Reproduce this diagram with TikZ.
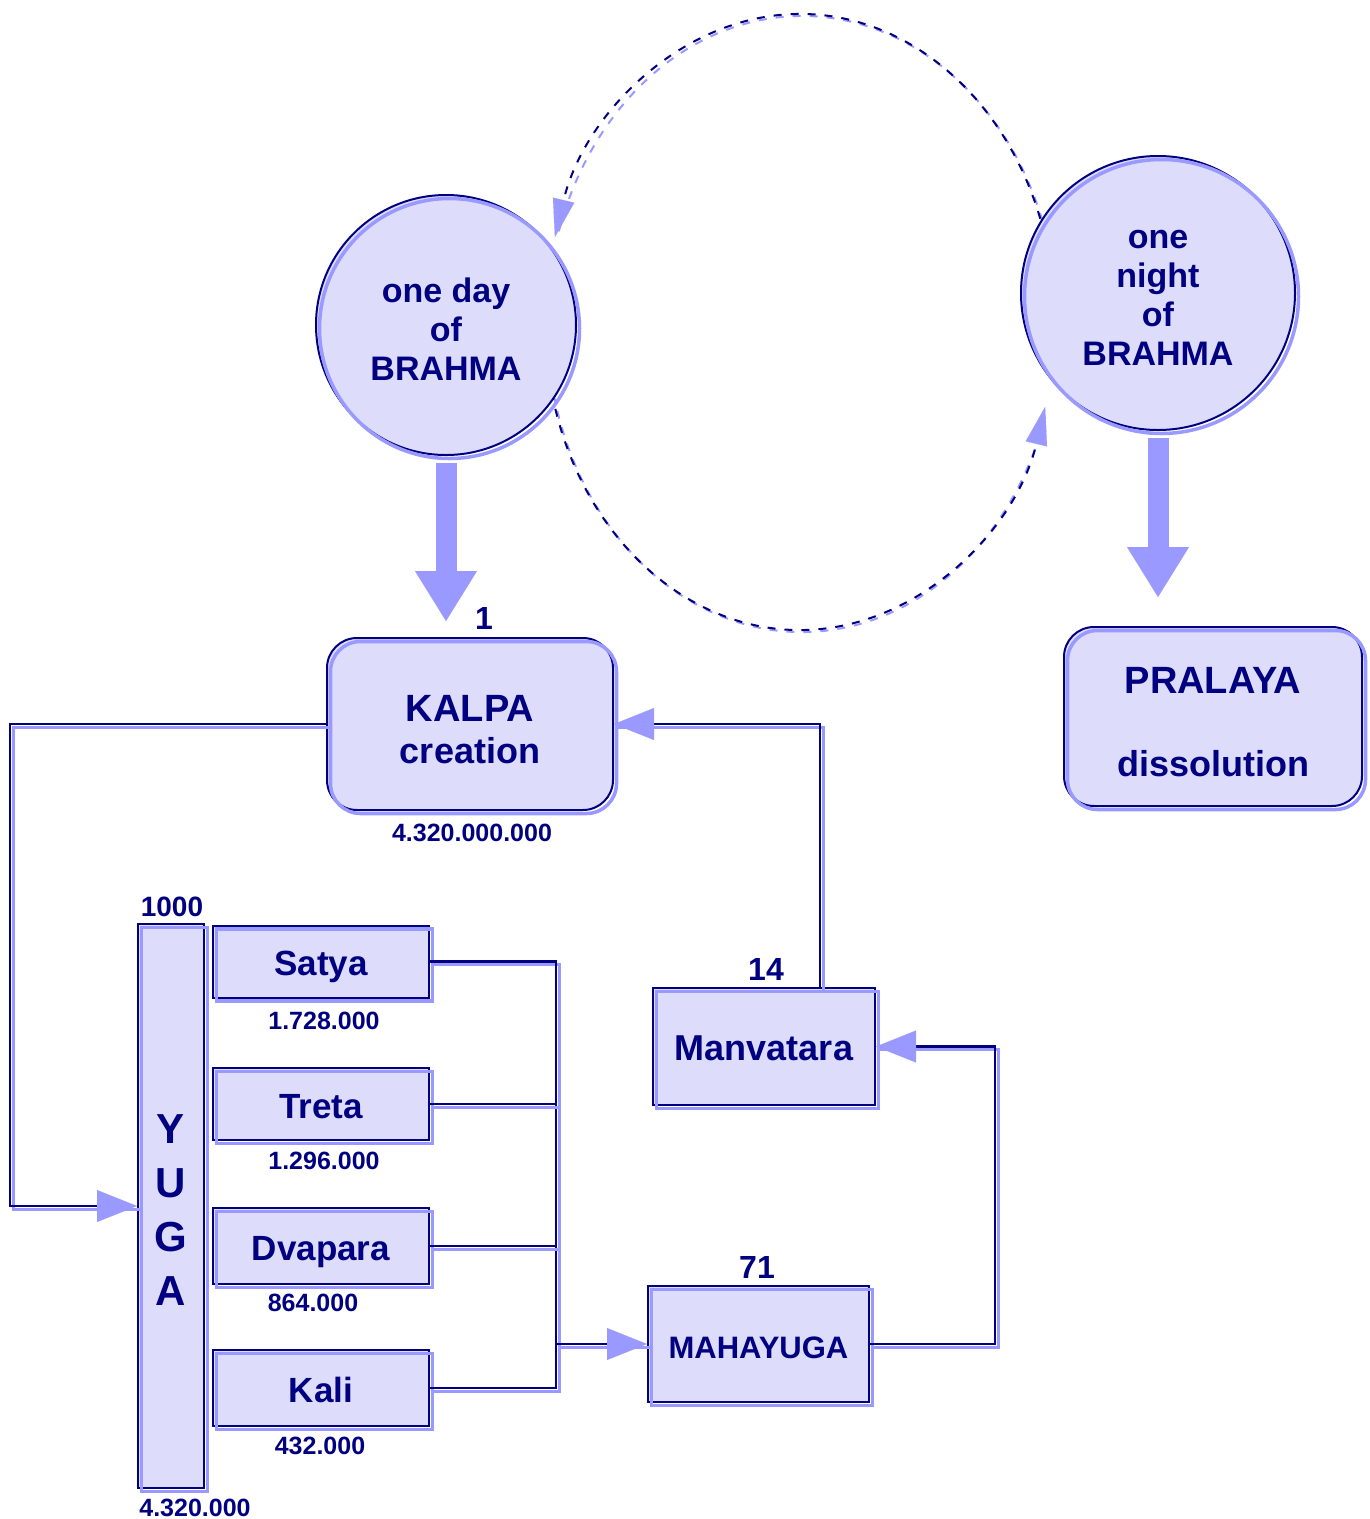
\documentclass[tikz,border=0pt]{standalone}
\usepackage{fontspec}
\setmainfont{Liberation Sans}
\usetikzlibrary{arrows.meta}
\definecolor{navy}{RGB}{0,0,128}
\definecolor{lav}{RGB}{221,221,251}
\definecolor{lb}{RGB}{153,153,255}
\newcommand\myfs[2]{\fontsize{#1pt}{#2pt}\selectfont\bfseries}
\newcommand\toplift[1]{\rule{0pt}{#1}}
\begin{document}
\begin{tikzpicture}[x=1pt,y=1pt,
  box/.style={draw=navy, line width=2pt, fill=lav, text=navy, inner sep=0pt, align=center,
    postaction={draw=lb, line width=3.5pt, transform canvas={shift={(3.5pt,-3.5pt)}}}},
  oneline/.style={text height=#1, text depth=0pt},
  conn/.style={draw=navy, line width=2.5pt,
    preaction={draw=lb, line width=3pt, arrows=-, transform canvas={shift={(3pt,-3pt)}}}},
  arr/.style={conn, -{Triangle[length=40pt,width=32pt,color=lb,line width=0.1pt]}},
  dasharc/.style={draw=navy, line width=2pt, dash pattern=on 8pt off 9pt,
    preaction={draw=lb, line width=2pt, arrows=-, dash pattern=on 8pt off 9pt, transform canvas={shift={(2pt,-2pt)}}},
    -{Triangle[length=38pt,width=22pt,color=lb,line width=0.1pt]}},
  fat/.style={draw=lb, line width=21pt, -{Triangle[length=50pt,width=62pt,line width=0.1pt]}},
  lbl/.style={text=navy, inner sep=0pt}
]
\useasboundingbox (0,0) rectangle (1370,-1519);

% dashed cycle
\draw[dasharc] (800,-322) ++(10:255 and 308) arc[start angle=10, end angle=164, x radius=255, y radius=308];
\draw[dasharc] (800,-322) ++(190:255 and 308) arc[start angle=190, end angle=344, x radius=255, y radius=308];

% circles
\node[box, circle, minimum size=260pt, font=\myfs{34}{39}] (day) at (446,-325) {\toplift{32pt}one day\\of\\BRAHMA};
\node[box, circle, minimum size=274pt, font=\myfs{34}{39}] (night) at (1158,-293) {\toplift{28pt}one\\night\\of\\BRAHMA};

% main boxes
\node[box, rounded corners=30pt, minimum width=286pt, minimum height=172pt, font=\myfs{38}{42}] (kalpa) at (470,-724) {\toplift{37pt}KALPA\\\myfs{36}{42}creation};
\node[box, rounded corners=30pt, minimum width=298pt, minimum height=179pt, font=\myfs{38}{42}] (pralaya) at (1213,-716.5) {\toplift{37pt}PRALAYA\\[41pt]\myfs{36}{42}dissolution};

\node[box, minimum width=66pt, minimum height=564pt, font=\myfs{42}{54}] (yuga) at (171,-1206) {\toplift{36pt}Y\\U\\G\\A};
\node[box, oneline=28pt, minimum width=216pt, minimum height=72pt, font=\myfs{35}{40}] (satya) at (321,-961.5) {Satya};
\node[box, oneline=28pt, minimum width=216pt, minimum height=72pt, font=\myfs{35}{40}] (treta) at (321,-1104) {Treta};
\node[box, oneline=28pt, minimum width=216pt, minimum height=76pt, font=\myfs{35}{40}] (dvapara) at (321,-1246) {Dvapara};
\node[box, oneline=28pt, minimum width=216pt, minimum height=76pt, font=\myfs{35}{40}] (kali) at (321,-1388) {Kali};

\node[box, oneline=27pt, minimum width=222pt, minimum height=117pt, font=\myfs{36}{40}] (manv) at (764,-1046.5) {Manvatara};
\node[box, oneline=29pt, minimum width=221pt, minimum height=116pt, font=\myfs{31}{36}] (maha) at (758.5,-1344) {MAHAYUGA};

% labels
\node[lbl, font=\myfs{32}{36}] (n1) at (484,-618) {1};
\node[lbl, font=\myfs{25}{30}] (nkalpa) at (472,-833) {4.320.000.000};
\node[lbl, font=\myfs{28}{32}] (n1000) at (172,-907) {1000};
\node[lbl, font=\myfs{25}{30}] (nyuga) at (195,-1508) {4.320.000};
\node[lbl, font=\myfs{25}{30}] (nsatya) at (324,-1021) {1.728.000};
\node[lbl, font=\myfs{25}{30}] (ntreta) at (324,-1161) {1.296.000};
\node[lbl, font=\myfs{25}{30}] (ndvapara) at (313,-1303) {864.000};
\node[lbl, font=\myfs{25}{30}] (nkali) at (320,-1446) {432.000};
\node[lbl, font=\myfs{32}{36}] (n14) at (766,-969) {14};
\node[lbl, font=\myfs{32}{36}] (n71) at (757,-1267) {71};

% fat arrows
\draw[fat, shorten <=7pt, shorten >=16pt] (day.south) -- (day.south |- kalpa.north);
\draw[fat, shorten <=7pt, shorten >=29pt] (night.south) -- (night.south |- pralaya.north);

% connectors
\draw[arr] (kalpa.west) -- ++(-316,0) |- (yuga.west);
\coordinate (mtop) at ([xshift=56pt]manv.north);
\draw[arr] (mtop) |- (kalpa.east);
\draw[arr] (maha.east) -- ++(125,0) |- (manv.east);
\coordinate (bustop) at ([xshift=126pt]satya.east);
\coordinate (busbot) at ([xshift=126pt]kali.east);
\draw[conn] (satya.east) -- (bustop) -- (busbot) -- (kali.east);
\draw[conn] (treta.east) -- (treta.east -| bustop);
\draw[conn] (dvapara.east) -- (dvapara.east -| bustop);
\draw[arr] (bustop |- maha.west) -- (maha.west);
\end{tikzpicture}
\end{document}
